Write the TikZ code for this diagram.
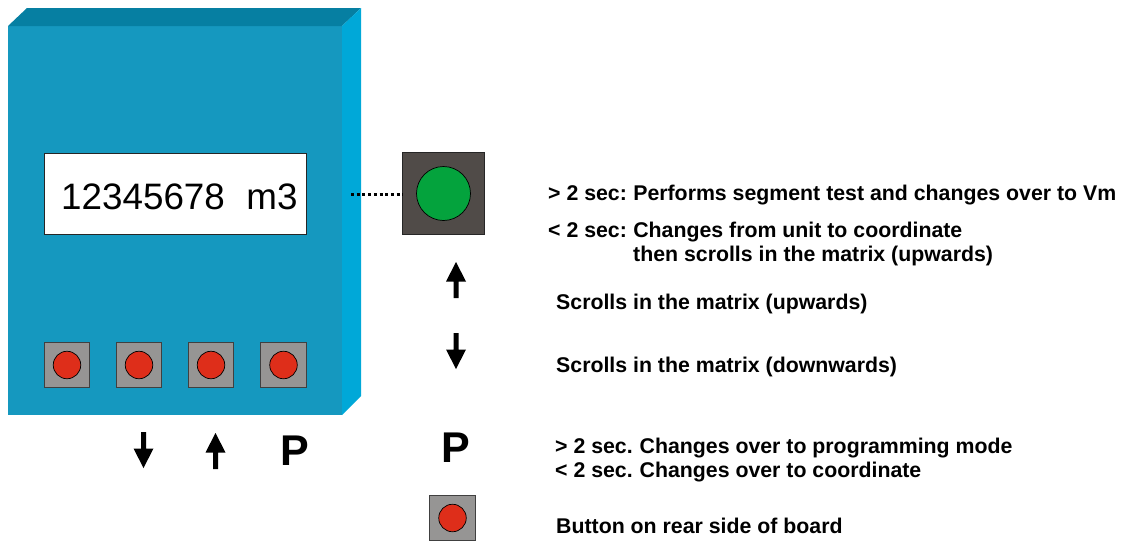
\documentclass[tikz,border=0pt]{standalone}
\usepackage{fontspec}
\setmainfont{Liberation Sans}
\definecolor{frontc}{HTML}{1598BF}
\definecolor{topc}{HTML}{067FA2}
\definecolor{sidec}{HTML}{00A8D8}
\definecolor{btngray}{HTML}{969594}
\definecolor{btnred}{HTML}{DE2E1A}
\definecolor{darkbtn}{HTML}{504B48}
\definecolor{greenc}{HTML}{04A33D}
\tikzset{
 x=1pt,y=-1pt,
 btnsq/.style={draw=black!75,line width=0.8pt,fill=btngray,minimum size=45.5pt,inner sep=0,outer sep=0},
 btnred/.style={circle,draw=black,line width=0.7pt,fill=btnred,minimum size=27.5pt,inner sep=0},
 desc/.style={anchor=base west,font=\fontsize{21.3}{24}\selectfont\bfseries,inner sep=0},
 pletter/.style={anchor=base,font=\fontsize{43}{46}\selectfont\bfseries,inner sep=0},
}
\newcommand{\uparr}[3]{\fill (#1-2.5,#3) -- (#1-2.5,#2+19.5) -- (#1-10,#2+19.5) -- (#1,#2) -- (#1+10,#2+19.5) -- (#1+2.5,#2+19.5) -- (#1+2.5,#3) -- cycle;}
\newcommand{\downarr}[3]{\fill (#1-2.5,#2) -- (#1-2.5,#3-19.5) -- (#1-10,#3-19.5) -- (#1,#3) -- (#1+10,#3-19.5) -- (#1+2.5,#3-19.5) -- (#1+2.5,#2) -- cycle;}
\begin{document}
\begin{tikzpicture}
\useasboundingbox (0,0) rectangle (1122,541);
\fill[frontc] (8,26) rectangle (342,415);
\fill[topc] (8,26) -- (27,8) -- (361,8) -- (342,26) -- cycle;
\fill[sidec] (342,26) -- (361,8) -- (361,396) -- (342,415) -- cycle;
\node[draw=black!85,line width=0.8pt,fill=white,minimum width=262pt,minimum height=81pt,inner sep=0] (disp) at (175,193.5) {};
\node[anchor=base west,inner sep=0,font=\fontsize{36.8}{40}\selectfont] (disptext) at (61,209) {12345678\hspace{21.5pt}m3};
\foreach \n/\x in {a/67,b/139,c/211,d/283.5}{
 \node[btnsq] (sq\n) at (\x,365) {};
 \node[btnred] (rd\n) at (\x,365) {};
}
\coordinate (dotstart) at (351,194.5);
\node[draw=black!85,line width=0.9pt,fill=darkbtn,minimum size=81.5pt,inner sep=0,outer sep=0] (green) at (443.5,193.5) {};
\node[circle,draw=black,line width=0.7pt,fill=greenc,minimum size=54pt,inner sep=0] (greenc) at (443.5,193.5) {};
\draw[line width=3pt,dash pattern=on 3pt off 2.7pt] (dotstart) -- (green.west |- dotstart);
\uparr{456}{262}{298}
\downarr{456}{333}{369}
\downarr{143.5}{432}{468}
\uparr{215.5}{433}{469}
\node[pletter] (p1) at (295,465) {P};
\node[pletter] (p2) at (455.5,462) {P};
\node[btnsq] (sqe) at (452.5,518) {};
\node[btnred] (rde) at (452.5,518) {};
\node[desc] (t1) at (548,200.7) {> 2 sec:\hspace{-1.5pt} Performs segment test and changes over to Vm};
\node[desc] (t2) at (548,237.5) {< 2 sec:\hspace{-1.5pt} Changes from unit to coordinate};
\node[desc] (t3) at (633,261.5) {then scrolls in the matrix (upwards)};
\node[desc] (t4) at (556,309.5) {Scrolls in the matrix (upwards)};
\node[desc] (t5) at (556,372.5) {Scrolls in the matrix (downwards)};
\node[desc] (t6) at (555,453.5) {> 2 sec.\hspace{-1pt} Changes over to programming mode};
\node[desc] (t7) at (555,477.5) {< 2 sec.\hspace{-1pt} Changes over to coordinate};
\node[desc] (t8) at (556,533.5) {Button on rear side of board};
\end{tikzpicture}
\end{document}
